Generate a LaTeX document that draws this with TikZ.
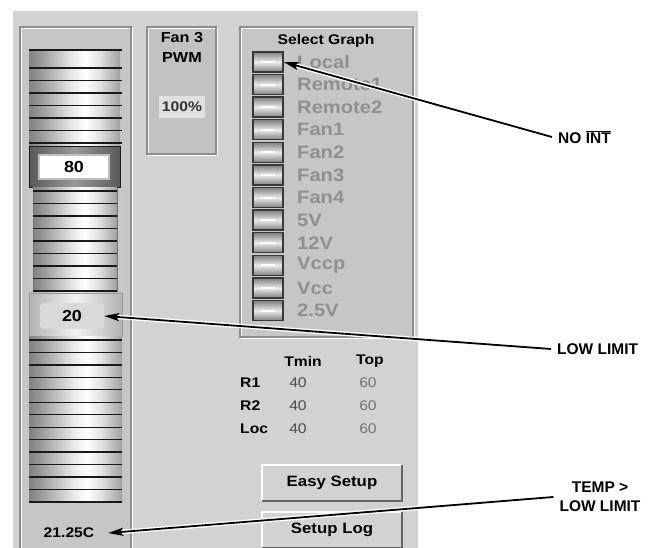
\documentclass[tikz,border=0pt]{standalone}
\usepackage{fontspec}
\setmainfont{Liberation Sans}
\newfontfamily\uifont[FakeStretch=1.12]{Liberation Sans}
\usetikzlibrary{arrows.meta}
\definecolor{panelbg}{HTML}{D2D2D2}
\definecolor{boxbg}{HTML}{C6C6C6}
\definecolor{fanbg}{HTML}{C2C2C2}
\definecolor{etch}{HTML}{8C8C8C}
\definecolor{graylbl}{HTML}{8F8F8F}
\pgfdeclarehorizontalshading{metal}{100bp}{color(0bp)=(black!82); color(12bp)=(black!68); color(30bp)=(black!42); color(48bp)=(black!10); color(56bp)=(white); color(64bp)=(black!12); color(80bp)=(black!48); color(100bp)=(black!85)}
\pgfdeclarehorizontalshading{metaldark}{100bp}{color(0bp)=(black!92); color(20bp)=(black!70); color(50bp)=(black!40); color(80bp)=(black!70); color(100bp)=(black!92)}
\pgfdeclarehorizontalshading{metallight}{100bp}{color(0bp)=(black!55); color(25bp)=(black!30); color(50bp)=(black!5); color(75bp)=(black!30); color(100bp)=(black!55)}
\pgfdeclareverticalshading{knob}{100bp}{color(0bp)=(black!72); color(28bp)=(black!45); color(50bp)=(black!8); color(72bp)=(black!45); color(100bp)=(black!72)}

\begin{document}
\begin{tikzpicture}[x=1pt,y=-1pt,
  ui/.style={font=\uifont\bfseries\fontsize{14}{16}\selectfont,inner sep=0pt},
  stripe/.style={black!90,line width=1.3pt},
  graphbtn/.style={shade,shading=knob,draw=black!78,line width=1.4pt,minimum width=30pt,minimum height=20pt,inner sep=0pt},
  graphlbl/.style={font=\uifont\bfseries\fontsize{18}{20}\selectfont,text=graylbl,anchor=west,inner sep=0pt},
  val/.style={font=\uifont\fontsize{14}{16}\selectfont,inner sep=0pt},
  pushbtn/.style={ui,font=\uifont\bfseries\fontsize{15}{17}\selectfont,fill=panelbg,minimum width=140pt,minimum height=36pt},
  callout/.style={-{Stealth[length=15pt,width=8pt,inset=3pt]},line width=1.8pt,preaction={draw=white,line width=4.5pt,-,shorten >=12pt}},
  calloutlbl/.style={font=\bfseries\fontsize{15.5}{19}\selectfont,inner xsep=6pt,inner ysep=0pt}]
\useasboundingbox (0,0) rectangle (657,548);
\fill[panelbg] (13,11) rectangle (418,548);
\foreach \xa/\ya/\xb/\yb/\c in {20/27/131/552/boxbg,147/27/216/154/fanbg,240/27/413/337/boxbg} {
  \fill[\c] (\xa,\ya) rectangle (\xb,\yb);
  \draw[white,line width=1.2pt] (\xa+1.2,\ya+1.2) rectangle (\xb+1.2,\yb+1.2);
  \draw[etch,line width=1.2pt] (\xa,\ya) rectangle (\xb,\yb);
}

% temperature slider
\shade[shading=metal] (29,50) rectangle (120,147);
\foreach \y in {50,68,80.5,93,105.5,118,130.5,143}
  \draw[stripe] (29,\y) -- (122,\y);
\shade[shading=metaldark,draw=black!90,line width=1pt] (29,147) rectangle (120,188);
\node[ui,font=\uifont\bfseries\fontsize{16}{18}\selectfont,fill=white,draw=black!25,line width=1.5pt,minimum width=70pt,minimum height=24pt] (hilim) at (74,167) {80};
\fill[black!22] (29,188) rectangle (122,292);
\shade[shading=metal] (33,188) rectangle (117,292);
\draw[black!55] (33,188) -- (33,292) (117,188) -- (117,292);
\foreach \y in {191,203.5,216,228.5,241,253.5,266,278.5,291}
  \draw[stripe] (33,\y) -- (117,\y);
\shade[shading=metallight,draw=black!40] (29,293) rectangle (122,336);
\node[ui,font=\uifont\bfseries\fontsize{16}{18}\selectfont,fill=white!85!black,rounded corners=3pt,minimum width=64pt,minimum height=26pt] (lolim) at (72,316) {20};
\shade[shading=metal] (29,337) rectangle (122,503);
\foreach \k in {0,...,13}
  \draw[stripe] (29,{340+12.46*\k}) -- (122,{340+12.46*\k});
\node[ui,minimum width=78pt] (temp) at (69,533) {21.25C};

% fan box
\node[ui,font=\uifont\bfseries\fontsize{14.5}{16}\selectfont] (fanhdr) at (182,38) {Fan 3};
\node[ui,font=\uifont\bfseries\fontsize{14.5}{16}\selectfont] (pwm) at (182,58) {PWM};
\node[ui,text=black!80,fill=white!88!black,minimum width=46pt,minimum height=22pt] (pct) at (182,107) {100\%};

% select graph
\node[ui] (selhdr) at (326,41) {Select Graph};
\foreach \n/\1 in %
{0/Local,1/Remote1,2/Remote2,3/Fan1,4/Fan2,5/Fan3,6/Fan4,7/5V,8/12V,9/Vccp,10/Vcc,11/2.5V} {
  \node[graphbtn] (btn\n) at (268,{62+22.6*\n}) {};
  \draw[white,line width=2pt] ([xshift=-7pt]btn\n.center) -- ([xshift=7pt]btn\n.center);
  \node[graphlbl] (lbl\n) at (297,{62+22.6*\n}) {\1};
}

% limits table
\node[ui] (hmin) at (303,361) {Tmin};
\node[ui] (htop) at (370,361) {Top};
\foreach \1/\y in %
{R1/383,R2/406,Loc/429} {
  \node[ui,anchor=west] (row\1) at (240,\y) {\1};
  \node[val,text=black!70] (min\1) at (298,\y) {40};
  \node[val,text=black!55] (top\1) at (368,\y) {60};
}

% buttons
\foreach \b/\y/\1 in {easy/483/Easy Setup,log/530/Setup Log} {
  \node[pushbtn] (\b) at (332,\y) {\1};
  \draw[white,line width=1.5pt] (\b.south west) -- (\b.north west) -- (\b.north east);
  \draw[black!60,line width=1.5pt] (\b.north east) -- (\b.south east) -- (\b.south west);
}

% callouts
\node[calloutlbl,anchor=west] (noint) at (552,137) {NO $\overline{\mbox{INT}}$};
\node[calloutlbl,anchor=west] (lowlbl) at (551,349) {LOW LIMIT};
\node[calloutlbl,align=center] (templbl) at (600,497) {TEMP >\\LOW LIMIT};
\draw[callout] (noint.west) -- (btn0.east);
\draw[callout] (lowlbl.west) -- (lolim.east);
\draw[callout] (templbl.west) -- (temp.east);
\end{tikzpicture}
\end{document}
